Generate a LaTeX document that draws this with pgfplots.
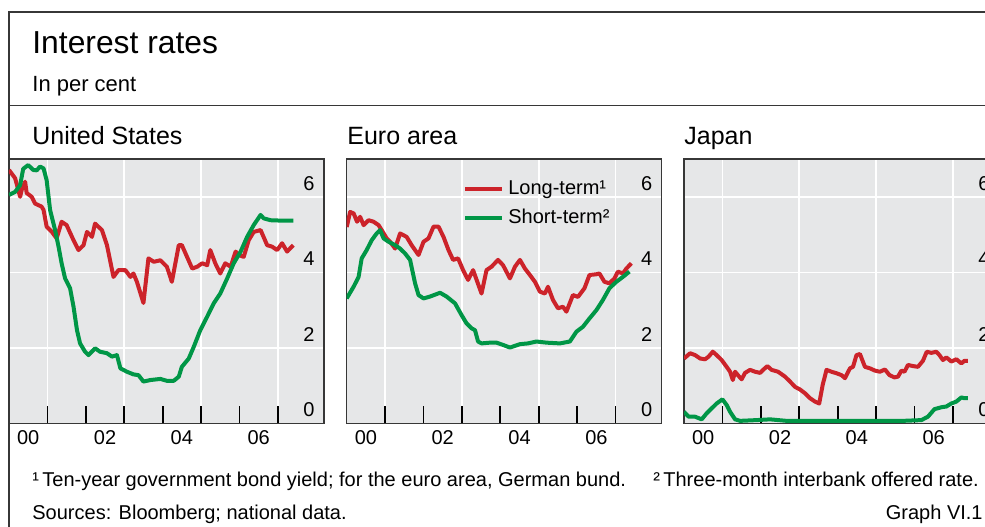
\documentclass[border=0pt]{standalone}
\usepackage{fontspec}
\setmainfont{Liberation Sans}
\usepackage{pgfplots}
\pgfplotsset{compat=1.18}
\definecolor{bisred}{RGB}{204,35,42}
\definecolor{bisgreen}{RGB}{0,150,70}
\definecolor{panelbg}{RGB}{230,231,232}
\definecolor{framegray}{RGB}{55,55,55}

\pgfplotsset{
  panel/.style={
    scale only axis, width=157.5pt, height=132.25pt, anchor=south west,
    xmin=0, xmax=8.2, ymin=0, ymax=7,
    axis background/.style={fill=panelbg},
    axis line style={draw=framegray, line width=0.6pt},
    tick label style={font=\fontsize{10}{12}\selectfont},
    /pgf/number format/assume math mode=true,
    % year boundaries: tick marks, white grid on odd years
    xtick={1,3,5,7}, xticklabels={}, xmajorgrids,
    minor xtick={2,4,6},
    xtick pos=left,
    major tick length=9pt, minor tick length=9pt,
    x tick style={black, line width=0.9pt},
    % year labels centred in the two-year spans
    extra x ticks={0.5,2.5,4.5,6.5}, extra x tick labels={00,02,04,06},
    extra x tick style={major tick length=0pt, grid=none},
    ytick={0,2,4,6}, ymajorgrids,
    y tick style={draw=none},
    major grid style={white, line width=0.8pt},
    yticklabel pos=right,
    yticklabel style={anchor=south east, inner sep=3pt, xshift=-1.5pt},
  },
  longterm/.style={bisred, line width=2pt, line join=round, no marks},
  shortterm/.style={bisgreen, line width=2pt, line join=round, no marks},
}

\begin{document}
\begin{tikzpicture}
\useasboundingbox (0,0) rectangle (492.5pt,263pt);
\clip (0,0) rectangle (492.5pt,263pt);

% outer frame and headings
\draw[framegray, line width=0.7pt] (4.5pt,-2pt) -- (4.5pt,257pt) -- (495pt,257pt);
\draw[framegray, line width=0.7pt] (4.5pt,210.2pt) -- (495pt,210.2pt);
\node[anchor=base west, inner sep=0pt, font=\fontsize{15.9}{18}\selectfont] at (16pt,236.4pt) {Interest rates};
\node[anchor=base west, inner sep=0pt, font=\fontsize{11}{13}\selectfont] at (16pt,217.1pt) {In per cent};
\node[anchor=base west, inner sep=0pt, font=\fontsize{12.5}{15}\selectfont] at (16pt,190.5pt) {United States};
\node[anchor=base west, inner sep=0pt, font=\fontsize{12.5}{15}\selectfont] at (173.5pt,190.5pt) {Euro area};
\node[anchor=base west, inner sep=0pt, font=\fontsize{12.5}{15}\selectfont] at (342pt,190.5pt) {Japan};

% United States
\begin{axis}[panel, at={(4.5pt,51.25pt)}]
\addplot[longterm] coordinates {(0.00,6.71)(0.16,6.49)(0.29,6.00)(0.33,6.18)(0.42,6.40)(0.46,6.10)(0.59,6.00)(0.68,5.82)(0.85,5.74)(0.90,5.65)(0.98,5.21)(1.11,5.08)(1.24,4.90)(1.37,5.34)(1.50,5.25)(1.68,4.85)(1.81,4.59)(1.94,4.72)(2.03,5.07)(2.16,4.94)(2.24,5.29)(2.42,5.12)(2.55,4.72)(2.72,3.88)(2.85,4.06)(3.03,4.06)(3.16,3.88)(3.24,3.97)(3.33,3.75)(3.50,3.19)(3.63,4.37)(3.77,4.28)(3.94,4.32)(4.11,4.15)(4.24,3.75)(4.42,4.72)(4.50,4.72)(4.77,4.10)(4.90,4.15)(5.03,4.24)(5.16,4.19)(5.24,4.59)(5.37,4.24)(5.50,3.97)(5.63,4.24)(5.77,4.15)(5.90,4.55)(5.98,4.46)(6.11,4.41)(6.24,4.85)(6.37,5.07)(6.55,5.12)(6.72,4.72)(6.85,4.68)(6.98,4.59)(7.11,4.77)(7.24,4.55)(7.40,4.72)};
\addplot[shortterm] coordinates {(0.00,6.05)(0.16,6.13)(0.29,6.31)(0.37,6.74)(0.50,6.84)(0.63,6.71)(0.72,6.70)(0.81,6.80)(0.90,6.75)(0.98,6.44)(1.07,5.65)(1.20,5.12)(1.29,4.68)(1.37,4.24)(1.46,3.84)(1.59,3.58)(1.68,3.09)(1.77,2.47)(1.85,2.12)(1.98,1.90)(2.07,1.81)(2.24,1.99)(2.37,1.90)(2.55,1.86)(2.68,1.77)(2.81,1.81)(2.90,1.46)(3.07,1.37)(3.24,1.30)(3.37,1.28)(3.50,1.11)(3.68,1.15)(3.94,1.18)(4.11,1.13)(4.29,1.13)(4.42,1.24)(4.50,1.50)(4.68,1.72)(4.81,2.03)(4.98,2.47)(5.16,2.83)(5.33,3.18)(5.50,3.44)(5.68,3.84)(5.85,4.24)(6.03,4.55)(6.20,4.94)(6.37,5.25)(6.55,5.52)(6.63,5.43)(6.81,5.38)(7.07,5.37)(7.40,5.37)};
\end{axis}

% Euro area
\begin{axis}[panel, at={(173.35pt,51.25pt)},
  legend style={at={(0.369,0.935)}, anchor=north west, draw=none, fill=none,
    inner sep=0pt, font=\fontsize{10}{12}\selectfont, row sep=1.8pt},
  legend cell align=left,
  legend image code/.code={\draw[#1] (0pt,0pt) -- (18.5pt,0pt);}]
\addplot[longterm] coordinates {(0.00,5.20)(0.09,5.60)(0.18,5.56)(0.27,5.34)(0.35,5.47)(0.44,5.25)(0.57,5.38)(0.70,5.34)(0.83,5.25)(0.91,5.12)(1.04,4.90)(1.13,4.81)(1.26,4.63)(1.39,5.03)(1.56,4.94)(1.69,4.72)(1.87,4.46)(2.00,4.81)(2.13,4.90)(2.26,5.21)(2.39,5.21)(2.52,4.94)(2.65,4.59)(2.77,4.33)(2.90,4.37)(3.03,4.06)(3.16,3.80)(3.29,4.06)(3.51,3.44)(3.64,4.06)(3.77,4.15)(3.94,4.33)(4.07,4.19)(4.25,3.84)(4.38,4.15)(4.51,4.33)(4.64,4.10)(4.77,3.93)(4.90,3.75)(5.03,3.49)(5.16,3.44)(5.24,3.62)(5.37,3.27)(5.50,3.05)(5.63,3.09)(5.72,2.96)(5.89,3.40)(6.02,3.35)(6.19,3.58)(6.32,3.93)(6.50,3.95)(6.58,3.97)(6.71,3.75)(6.84,3.71)(6.97,3.84)(7.06,4.02)(7.19,3.97)(7.28,4.10)(7.41,4.24)};
\addlegendentry{Long-term¹}
\addplot[shortterm] coordinates {(0.00,3.31)(0.18,3.62)(0.31,3.88)(0.39,4.37)(0.52,4.59)(0.65,4.85)(0.78,5.03)(0.87,5.12)(0.96,4.90)(1.09,4.81)(1.26,4.72)(1.39,4.63)(1.52,4.50)(1.65,4.33)(1.78,3.71)(1.87,3.40)(2.00,3.31)(2.17,3.36)(2.43,3.46)(2.60,3.36)(2.82,3.18)(2.99,2.87)(3.12,2.65)(3.25,2.52)(3.34,2.47)(3.42,2.17)(3.51,2.12)(3.73,2.14)(3.90,2.14)(4.07,2.08)(4.25,2.01)(4.51,2.10)(4.72,2.12)(4.94,2.17)(5.20,2.14)(5.55,2.12)(5.81,2.17)(5.98,2.43)(6.15,2.56)(6.32,2.78)(6.50,3.00)(6.67,3.27)(6.84,3.58)(7.02,3.75)(7.19,3.88)(7.36,4.02)};
\addlegendentry{Short-term²}
\end{axis}

% Japan
\begin{axis}[panel, at={(342pt,51.25pt)}]
\addplot[longterm] coordinates {(0.00,1.72)(0.16,1.86)(0.29,1.81)(0.42,1.72)(0.55,1.70)(0.64,1.77)(0.75,1.90)(0.85,1.81)(0.98,1.68)(1.11,1.50)(1.20,1.37)(1.27,1.15)(1.33,1.37)(1.42,1.26)(1.50,1.17)(1.59,1.34)(1.72,1.42)(1.85,1.37)(1.98,1.34)(2.06,1.42)(2.17,1.52)(2.28,1.42)(2.45,1.37)(2.63,1.24)(2.76,1.11)(2.89,0.97)(3.02,0.90)(3.15,0.80)(3.28,0.67)(3.41,0.58)(3.52,0.53)(3.61,1.02)(3.71,1.42)(3.84,1.37)(3.97,1.33)(4.10,1.28)(4.19,1.20)(4.32,1.46)(4.40,1.50)(4.49,1.81)(4.58,1.84)(4.71,1.50)(4.84,1.46)(4.97,1.40)(5.10,1.37)(5.23,1.43)(5.35,1.28)(5.48,1.22)(5.57,1.24)(5.66,1.40)(5.74,1.37)(5.83,1.55)(5.96,1.52)(6.09,1.50)(6.22,1.66)(6.32,1.90)(6.44,1.87)(6.57,1.90)(6.65,1.81)(6.74,1.68)(6.83,1.75)(6.96,1.64)(7.09,1.70)(7.22,1.59)(7.30,1.66)(7.39,1.66)};
\addplot[shortterm] coordinates {(0.00,0.31)(0.12,0.18)(0.29,0.18)(0.46,0.11)(0.59,0.27)(0.72,0.40)(0.85,0.53)(1.00,0.64)(1.11,0.49)(1.20,0.31)(1.33,0.11)(1.46,0.07)(1.89,0.09)(2.24,0.11)(2.67,0.07)(3.97,0.07)(5.70,0.07)(6.18,0.09)(6.35,0.18)(6.52,0.38)(6.70,0.43)(6.83,0.45)(6.96,0.53)(7.09,0.58)(7.22,0.69)(7.30,0.67)(7.39,0.67)};
\end{axis}

% notes
\node[anchor=base west, inner sep=0pt, font=\fontsize{10}{12}\selectfont] at (16pt,20pt) {¹\,Ten-year government bond yield; for the euro area, German bund.};
\node[anchor=base west, inner sep=0pt, font=\fontsize{10}{12}\selectfont] at (326.5pt,20pt) {²\,Three-month interbank offered rate.};
\node[anchor=base west, inner sep=0pt, font=\fontsize{10}{12}\selectfont] at (16pt,3.4pt) {Sources: Bloomberg; national data.};
\node[anchor=base east, inner sep=0pt, font=\fontsize{10}{12}\selectfont] at (491.5pt,3.4pt) {Graph VI.1};
\end{tikzpicture}
\end{document}
